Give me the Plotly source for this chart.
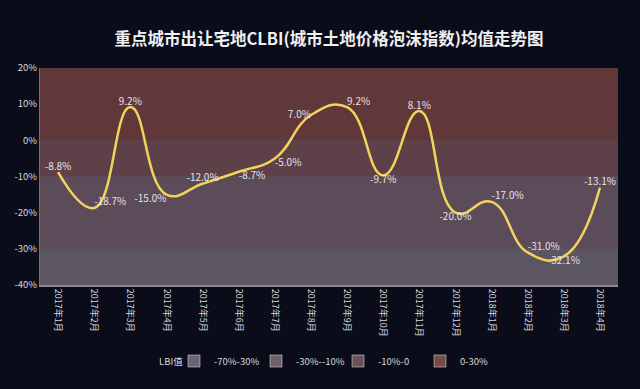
import plotly.graph_objects as go

months = ["2017年1月", "2017年2月", "2017年3月", "2017年4月", "2017年5月", "2017年6月",
          "2017年7月", "2017年8月", "2017年9月", "2017年10月", "2017年11月", "2017年12月",
          "2018年1月", "2018年2月", "2018年3月", "2018年4月"]
clbi = [-8.8, -18.7, 9.2, -15.0, -12.0, -8.7, -5.0, 7.0, 9.2, -9.7, 8.1, -20.0,
        -17.0, -31.0, -32.1, -13.1]
label_pos = ["top center", "top right", "top center", "bottom left", "top center",
             "bottom right", "bottom right", "middle left", "top right", "bottom center",
             "top center", "bottom center", "top right", "top right", "bottom center",
             "top center"]

y_ticks = [-40, -30, -20, -10, 0, 10, 20]

band_names = ["-70%-30%", "-30%--10%", "-10%-0", "0-30%"]
band_colors = ["#6a6470", "#6e6068", "#6c5058", "#7a4a48"]
bands_lo = [-40, -30, -10, 0]
bands_hi = [-30, -10, 0, 20]
bands_fill = ["#5b5662", "#5c4b59", "#5e4049", "#603839"]

fig = go.Figure()

for lo, hi, c in zip(bands_lo, bands_hi, bands_fill):
    fig.add_shape(type="rect", xref="paper", x0=0, x1=1, yref="y", y0=lo, y1=hi,
                  fillcolor=c, line_width=0, layer="below")

fig.add_trace(go.Scatter(
    x=months, y=clbi, mode="lines+text",
    line=dict(color="#f2d35c", width=2.5, shape="spline", smoothing=1.3),
    text=[f"{v:.1f}%" for v in clbi], textposition=label_pos,
    textfont=dict(color="#e6e2e6", size=10, family="Noto Sans CJK SC"),
    showlegend=False, cliponaxis=False,
))

for name, c in zip(band_names, band_colors):
    fig.add_trace(go.Bar(x=[None], y=[None], name=name, marker=dict(color=c)))

fig.add_annotation(text="LBI值", xref="paper", yref="paper", x=(157 - 40) / 578,
                   y=(285 - 361) / 217, xanchor="left", yanchor="middle", showarrow=False,
                   font=dict(size=9.5, color="#d8d8dc"))

fig.update_layout(
    width=640, height=389,
    paper_bgcolor="#0a0c1a", plot_bgcolor="#5b5662",
    margin=dict(l=40, r=22, t=68, b=104, autoexpand=False),
    font=dict(family="Noto Sans CJK SC", color="#d8d8dc", size=10),
    title=dict(text="<b>重点城市出让宅地CLBI(城市土地价格泡沫指数)均值走势图</b>",
               x=0.514, xanchor="center", y=0.9, yanchor="middle",
               font=dict(size=16.5, color="#f0f0f0", family="Noto Sans CJK SC")),
    xaxis=dict(type="category", range=[-0.5, 15.5], tickangle=90, showgrid=False,
               tickfont=dict(size=9, color="#d8d8dc"), ticks="", showline=True,
               linecolor="#8a8890", linewidth=2, zeroline=False, automargin=False),
    yaxis=dict(range=[-40, 20], tickmode="array", tickvals=y_ticks,
               ticktext=[f"{v}%" for v in y_ticks],
               showgrid=False, zeroline=False, ticks="", showline=True,
               linecolor="#77707a", linewidth=1, automargin=False,
               tickfont=dict(size=9.5, color="#d8d8dc")),
    legend=dict(orientation="h", xref="container", yref="container",
                x=(190 - 16) / 640, xanchor="left", y=(389 - 361) / 389, yanchor="middle",
                font=dict(size=9.5, color="#d8d8dc"), entrywidth=37,
                bgcolor="rgba(0,0,0,0)"),
)

fig.write_html("out.html", config={"displayModeBar": False},
               post_script="document.body.style.margin='0';"
                           "document.body.style.background='#0a0c1a';")
